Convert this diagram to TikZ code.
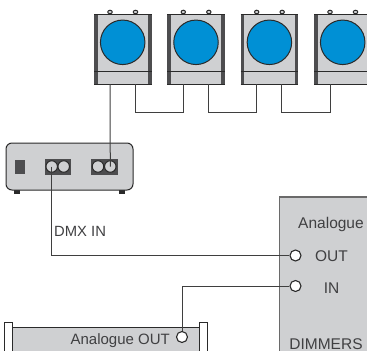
\documentclass[tikz,border=0pt]{standalone}
\usepackage{fontspec}
\setmainfont{Liberation Sans}
\definecolor{panel}{HTML}{CFD0D2}
\definecolor{lampblue}{HTML}{0090D5}
\definecolor{ink}{HTML}{2A2A2A}
\definecolor{bar}{HTML}{4D4D4F}
\definecolor{label}{HTML}{404042}
\tikzset{
  wire/.style={draw=ink!90!white,line width=1bp},
  edge/.style={draw=ink,line width=1bp},
  jack/.style={circle,draw=ink,line width=1.1bp,fill=white,minimum size=11bp,inner sep=0pt},
  sock/.style={circle,draw=ink,line width=1bp,fill=panel,minimum size=11.5bp,inner sep=0pt},
  knob/.style={draw=ink,line width=1bp,fill=panel},
  txt/.style={text=label,inner sep=0pt,font=\fontsize{15bp}{15bp}\selectfont}
}
\newcommand{\fixture}[2]{%
  \begin{scope}[xshift=#1 bp]
    \draw[knob] (16,12) ellipse (2.2bp and 1.8bp);
    \draw[knob] (41.5,12) ellipse (2.2bp and 1.8bp);
    \fill[panel] (0,14) rectangle (57.5,84);
    \fill[bar] (0,14) rectangle (3.5,84);
    \fill[bar] (54,14) rectangle (57.5,84);
    \draw[edge] (0,14) -- (57.5,14) (0,84) -- (57.5,84);
    \draw[edge] (0,71) -- (57.5,71);
    \node[circle,draw=ink,line width=1bp,fill=lampblue,minimum size=44.5bp,inner sep=0pt] (lamp#2) at (28.7,42.3) {};
    \coordinate (l#2) at (16,84);
    \coordinate (r#2) at (41,84);
  \end{scope}}
\begin{document}
\begin{tikzpicture}[x=1bp,y=-1bp]
\useasboundingbox (0,0) rectangle (367,351);
\clip (0,0) rectangle (367,351);
\fixture{94}{a}
\fixture{167.3}{b}
\fixture{240.7}{c}
\fixture{314}{d}
% controller
\fill[ink] (14,189) rectangle (20,193.5);
\fill[ink] (119,189) rectangle (125,193.5);
\draw[edge,fill=panel,rounded corners=6bp] (6,143) rectangle (133,190);
\fill[bar] (15,160) rectangle (25,174);
\fill[bar] (45,159) rectangle (71,174.5);
\fill[bar] (91,159) rectangle (117.5,174.5);
\node[sock] (s1) at (51.7,166.5) {};
\node[sock] (s2) at (63.7,166.5) {};
\node[sock] (s3) at (98,166.5) {};
\node[sock] (s4) at (110.3,166.5) {};
% dimmers
\draw[draw=ink!70!white,line width=1.1bp,fill=panel] (380,197) -- (279.5,197) -- (279.5,360) -- (380,360);
\node[jack] (jout) at (295.5,255.5) {};
\node[jack] (jin) at (295.5,286) {};
\node[txt,anchor=base] at (331,228.5) {\fontsize{15.5bp}{16bp}\selectfont Analogue};
\node[txt,anchor=base] at (331.5,261) {\fontsize{15.5bp}{16bp}\selectfont OUT};
\node[txt,anchor=base] at (331.5,293) {\fontsize{15.5bp}{16bp}\selectfont IN};
\node[txt,anchor=base] at (326,349.5) {\fontsize{15.5bp}{16bp}\selectfont DIMMERS};
% source
\draw[edge,fill=white] (4.5,322.5) rectangle (12.5,360);
\draw[edge,fill=white] (199,322.5) rectangle (207.5,360);
\draw[edge,fill=panel] (12.5,327) -- (199,327) -- (199,360) -- (12.5,360) -- cycle;
\node[jack] (jsrc) at (182,337) {};
\node[txt,anchor=base east] at (170,344.5) {Analogue OUT};
\node[txt,anchor=base west] at (54,236.5) {\fontsize{14.8bp}{15bp}\selectfont DMX IN};
% connectors
\draw[wire] (la) -- (s4.center);
\draw[wire] (ra) |- (lb |- 0,112.5) -- (lb);
\draw[wire] (rb) |- (lc |- 0,112.5) -- (lc);
\draw[wire] (rc) |- (ld |- 0,112.5) -- (ld);
\draw[wire] (s1.center) |- (jout.west);
\draw[wire] (jin.west) -| (jsrc.north);
\end{tikzpicture}
\end{document}
